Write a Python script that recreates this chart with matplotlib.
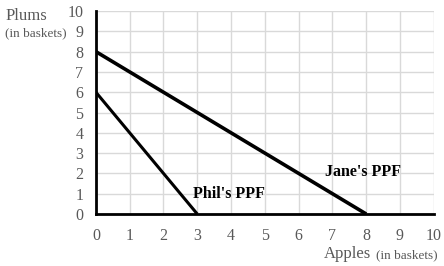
import matplotlib.pyplot as plt

plt.rcParams['font.family'] = ['Liberation Serif', 'DejaVu Serif']

phil_x = [0, 3]
phil_y = [6, 0]
jane_x = [0, 8]
jane_y = [8, 0]
ticks = list(range(0, 11))

fig = plt.figure(figsize=(4.44, 2.66), dpi=100)
ax = fig.add_axes([0.216, 0.1955, 0.761, 0.763])

ax.plot(phil_x, phil_y, color='black', lw=2.2, solid_capstyle='butt', zorder=3)
ax.plot(jane_x, jane_y, color='black', lw=2.6, solid_capstyle='butt', zorder=3)

ax.set_xlim(0, 10)
ax.set_ylim(0, 10)
ax.set_xticks(ticks)
ax.set_yticks(ticks)
ax.grid(True, color='#d9d9d9', lw=1)
ax.set_axisbelow(True)
for s in ['top', 'right']:
    ax.spines[s].set_visible(False)
for s in ['left', 'bottom']:
    ax.spines[s].set_linewidth(2)
    ax.spines[s].set_zorder(4)
ax.tick_params(length=0, labelsize=11.5, labelcolor='#595959')
ax.tick_params(axis='x', pad=10)
ax.tick_params(axis='y', pad=9)

ax.text(2.87, 1.0, "Phil's PPF", fontweight='bold', fontsize=11.5, va='center')
ax.text(6.78, 2.07, "Jane's PPF", fontweight='bold', fontsize=11.5, va='center')

fig.text(0.012, 0.925, 'Plums', fontsize=12, color='#595959')
fig.text(0.012, 0.862, '(in baskets)', fontsize=9.5, color='#595959')
fig.text(0.836, 0.03, 'Apples', fontsize=12, color='#595959', ha='right')
fig.text(0.985, 0.03, '(in baskets)', fontsize=9.5, color='#595959', ha='right')

fig.savefig('out.png', dpi=100)
